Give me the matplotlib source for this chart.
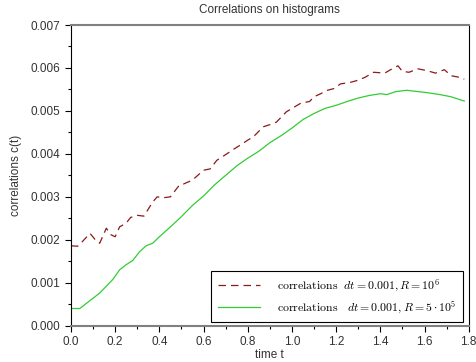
import numpy as np
import matplotlib
matplotlib.use('Agg')
import matplotlib.pyplot as plt
from matplotlib.ticker import MultipleLocator

# values
t_red = [0.00, 0.03, 0.05, 0.086, 0.11, 0.13, 0.16, 0.18, 0.20, 0.22, 0.25, 0.27, 0.30,
         0.33, 0.37, 0.39, 0.42, 0.45, 0.49, 0.51, 0.55, 0.60, 0.63, 0.66, 0.705, 0.74, 0.765,
         0.80, 0.826, 0.87, 0.90, 0.93, 0.975, 1.04, 1.08, 1.10, 1.13, 1.16, 1.19, 1.22, 1.26,
         1.29, 1.33, 1.37, 1.42, 1.46, 1.48, 1.50, 1.53, 1.57, 1.61, 1.65, 1.69, 1.72, 1.76, 1.78]
c_red = [0.00186, 0.00185, 0.00195, 0.00215, 0.00200, 0.00192, 0.00227, 0.00212, 0.00207,
         0.00230, 0.00239, 0.00252, 0.00257, 0.00255, 0.00288, 0.00300, 0.00298,
         0.00300, 0.00327, 0.00330, 0.00339, 0.00362, 0.00365, 0.00385, 0.00400, 0.00412,
         0.00420, 0.00432, 0.00440, 0.00463, 0.00468, 0.00474, 0.00498, 0.00518, 0.00522,
         0.00533, 0.00540, 0.00548, 0.00552, 0.00563, 0.00566, 0.00570, 0.00578, 0.00590,
         0.00588, 0.00600, 0.00605, 0.00592, 0.00590, 0.00598, 0.00594, 0.00588, 0.00596,
         0.00582, 0.00578, 0.00574]

t_green = [0.00, 0.04, 0.07, 0.09, 0.13, 0.16, 0.19, 0.22, 0.25, 0.28, 0.31, 0.34, 0.37, 0.40,
           0.45, 0.50, 0.55, 0.60, 0.65, 0.70, 0.75, 0.80, 0.85, 0.90, 0.95, 1.00, 1.05, 1.10,
           1.15, 1.20, 1.25, 1.30, 1.35, 1.40, 1.43, 1.47, 1.52, 1.57, 1.62, 1.67, 1.72, 1.78]
c_green = [0.00040, 0.00040, 0.00052, 0.00060, 0.00076, 0.00092, 0.00108, 0.00130, 0.00142,
           0.00152, 0.00172, 0.00186, 0.00192, 0.00207, 0.00230, 0.00254, 0.00280, 0.00302,
           0.00328, 0.00350, 0.00372, 0.00390, 0.00406, 0.00426, 0.00442, 0.00460, 0.00480,
           0.00494, 0.00506, 0.00513, 0.00522, 0.00530, 0.00536, 0.00540, 0.00538, 0.00545,
           0.00548, 0.00545, 0.00542, 0.00538, 0.00533, 0.00523]

plt.rcParams['font.family'] = ['Liberation Sans', 'DejaVu Sans']
plt.rcParams['mathtext.fontset'] = 'cm'

fig = plt.figure(figsize=(4.77, 3.62), dpi=100)
ax = fig.add_axes([0.1488, 0.1003, 0.8338, 0.8306])

ax.plot(t_red, c_red, color='#8b1a1a', lw=0.9, ls=(0, (6, 4)),
        label=r'$\mathrm{correlations}\ \ dt = 0.001, R = 10^6$')
ax.plot(t_green, c_green, color='#33cc33', lw=0.9,
        label=r'$\mathrm{correlations}\ \ \ dt = 0.001, R = 5\cdot 10^5$')

ax.set_xlim(0, 1.8)
ax.set_ylim(0, 0.007)
ax.xaxis.set_major_locator(MultipleLocator(0.2))
ax.xaxis.set_minor_locator(MultipleLocator(0.1))
ax.yaxis.set_major_locator(MultipleLocator(0.001))
ax.yaxis.set_minor_locator(MultipleLocator(0.0005))
ax.xaxis.set_major_formatter(plt.FuncFormatter(lambda v, p: '%.1f' % v))
ax.yaxis.set_major_formatter(plt.FuncFormatter(lambda v, p: '%.3f' % v))
ax.tick_params(which='major', length=4, labelsize=8.5, labelcolor='#333333', width=0.8)
ax.tick_params(which='minor', length=2.5, width=0.8)

for s in ['top', 'bottom']:
    ax.spines[s].set_color('#808080')
    ax.spines[s].set_linewidth(1.5)
for s in ['left', 'right']:
    ax.spines[s].set_color('black')
    ax.spines[s].set_linewidth(0.8)

ax.set_title('Correlations on histograms', fontsize=8.5, color='#333333', pad=9)
ax.set_xlabel('time t', fontsize=8.5, color='#333333', labelpad=1)
ax.set_ylabel('correlations c(t)', fontsize=8.5, color='#333333', labelpad=6)

leg = ax.legend(loc='lower right', bbox_to_anchor=(0.985, 0.012), borderaxespad=0,
                fontsize=8.5, fancybox=False, framealpha=1, handlelength=3.6,
                handletextpad=1.4, borderpad=0.55, labelspacing=0.45)
leg.get_frame().set_edgecolor('black')
leg.get_frame().set_linewidth(0.8)

fig.savefig('out.png', dpi=100)
